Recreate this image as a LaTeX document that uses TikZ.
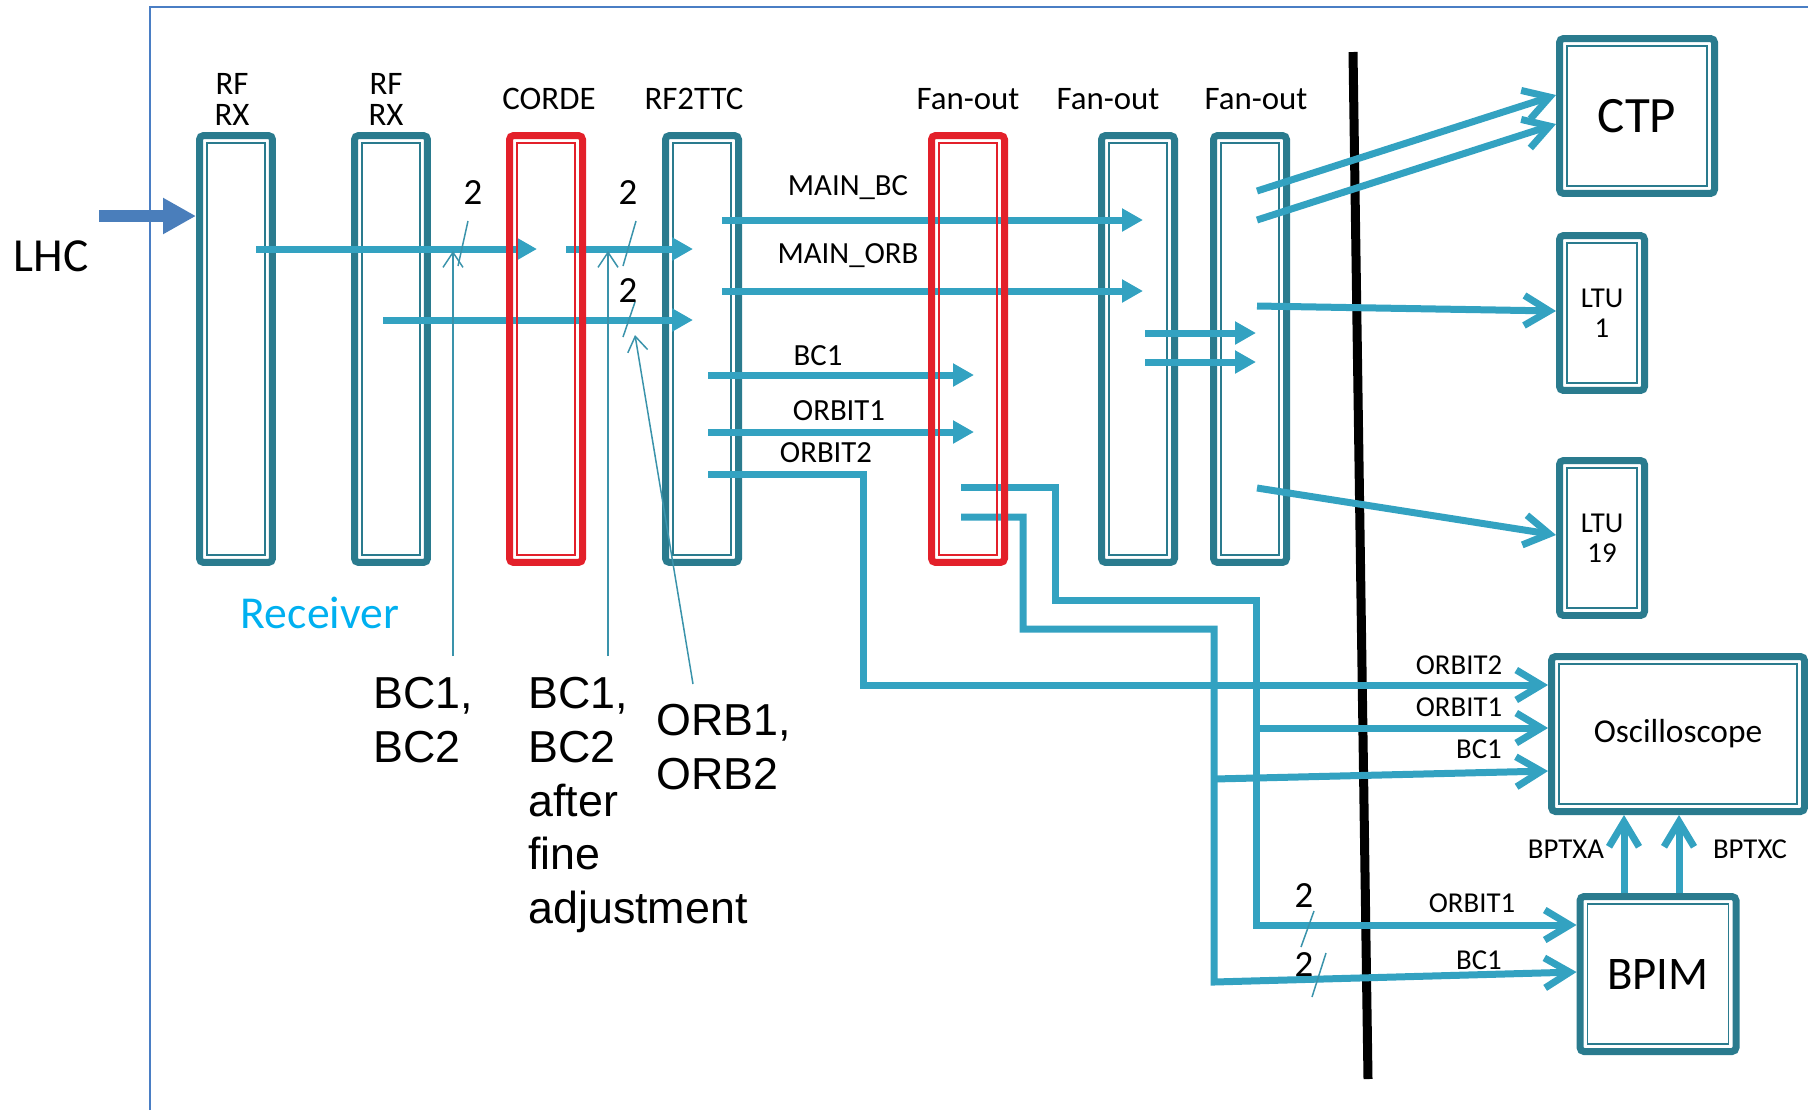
\documentclass[tikz,border=0pt]{standalone}
\usepackage{fontspec}
\setmainfont{Carlito}
\newfontfamily\arialfont{Liberation Sans}
\usetikzlibrary{arrows.meta,positioning}
\definecolor{boxteal}{HTML}{2A7B8E}
\definecolor{boxred}{HTML}{E3202A}
\definecolor{wire}{HTML}{33A2C1}
\definecolor{leadteal}{HTML}{3A93AB}
\definecolor{frameblue}{HTML}{4A7EC4}
\definecolor{lhcblue}{HTML}{4A7EBB}
\definecolor{rxcyan}{HTML}{00B0F0}

\begin{document}
\begin{tikzpicture}[x=0.02cm, y=-0.02cm,
  devbox/.style={draw=#1, line width=0.14cm, rounded corners=0.08cm, inner sep=0pt,
    minimum width=1.46cm, minimum height=8.54cm, align=center,
    path picture={\draw[#1, line width=0.03cm, sharp corners]
      ([shift={(0.15cm,-0.15cm)}]path picture bounding box.north west)
      rectangle
      ([shift={(-0.15cm,0.15cm)}]path picture bounding box.south east);}},
  toplbl/.style={font=\fontsize{18.7}{17.6}\selectfont, align=center, inner sep=0pt},
  wlbl/.style={font=\fontsize{17.5}{18}\selectfont, inner sep=0pt},
  rlbl/.style={font=\fontsize{16.4}{18}\selectfont, inner sep=0pt},
  num/.style={font=\fontsize{21}{22}\selectfont, inner sep=0pt},
  note/.style={font=\arialfont\fontsize{25.5}{30.6}\selectfont, align=left, inner sep=0pt, anchor=north west},
  bus/.style={wire, line width=0.14cm},
  fwd/.style={bus, -{Triangle[length=0.42cm, width=0.44cm]}},
  opn/.style={bus, -{Straight Barb[length=0.5cm, width=0.6cm]}},
  lead/.style={leadteal, line width=0.03cm, -{Straight Barb[length=0.3cm, width=0.4cm]}},
  slash/.style={leadteal, line width=0.03cm},
]

\useasboundingbox (0,0) rectangle (1808,1110);

% frame
\draw[frameblue, line width=0.04cm] (150,1110) -- (150,7) -- (1808,7);

% LHC input
\node[font=\fontsize{27}{27}\selectfont, inner sep=0pt] (lhc) at (51,256) {LHC};

% receiver crates
\node[devbox=boxteal] (rx1) at (236,349) {};
\node[devbox=boxteal] (rx2) at (391,349) {};
\node[devbox=boxteal] (ttc) at (702,349) {};

\node[toplbl, above=0.13cm of rx1, xshift=-0.08cm] (rx1lbl) {RF\\RX};
\node[toplbl, above=0.13cm of rx2, xshift=-0.1cm] (rx2lbl) {RF\\RX};
\node[toplbl, above=0.44cm of ttc, xshift=-0.16cm] (ttclbl) {RF2TTC};

\node[font=\fontsize{26}{26}\selectfont, text=rxcyan, inner sep=0pt] (recv) at (320,613) {Receiver};

% fan-outs
\node[devbox=boxteal] (fo2) at (1138,349) {};
\node[devbox=boxteal] (fo3) at (1250,349) {};

\node[toplbl, above=0.44cm of fo2, xshift=-0.6cm] (fo2lbl) {Fan-out};
\node[toplbl, above=0.44cm of fo3, xshift=0.12cm] (fo3lbl) {Fan-out};

% other side
\draw[black, line width=0.18cm] (1353,52) -- (1368,1079);

\node[devbox=boxteal, minimum width=3.1cm, minimum height=3.1cm,
  font=\fontsize{29}{29}\selectfont] (ctp) at (1637,116) {CTP};
\node[devbox=boxteal, minimum width=1.7cm, minimum height=3.1cm,
  font=\fontsize{16.4}{17}\selectfont] (ltua) at (1602,313) {LTU\\1};
\node[devbox=boxteal, minimum width=1.7cm, minimum height=3.1cm,
  font=\fontsize{16.4}{17}\selectfont] (ltub) at (1602,538) {LTU\\19};
\node[devbox=boxteal, minimum width=5.06cm, minimum height=3.1cm,
  font=\fontsize{19}{19}\selectfont] (osc) at (1678,734) {Oscilloscope};
\node[devbox=boxteal, minimum width=3.12cm, minimum height=3.1cm,
  font=\fontsize{26.6}{27}\selectfont] (bpim) at (1658,974) {BPIM};

% wires
\coordinate (lhcin) at (99,216);
\draw[lhcblue, line width=0.23cm, -{Triangle[length=0.66cm, width=0.68cm]}]
  (lhcin) -- (rx1.west |- lhcin);

\coordinate (rxa) at (256,249);
\coordinate (cdin) at (537,249);
\coordinate (cdout) at (566,249);
\coordinate (ttca) at (693,249);
\coordinate (rxb) at (383,320);
\coordinate (ttcb) at (693,320);
\draw[fwd] (rxa) -- (cdin);
\draw[fwd] (cdout) -- (ttca);
\draw[fwd] (rxb) -- (ttcb);

\coordinate (mbc) at (722,220);
\coordinate (mor) at (722,291);
\coordinate (bca) at (708,375);
\coordinate (ora) at (708,432);
\coordinate (orb) at (708,474);
\draw[fwd] (mbc) -- (1143,220);
\draw[fwd] (mor) -- (1143,291);
\draw[fwd] (bca) -- (974,375);
\draw[fwd] (ora) -- (974,432);
\draw[opn] (orb) -| (863,685) -- (osc.west |- 0,685);

\node[wlbl] (mbclbl) at (848,188) {MAIN\_BC};
\node[wlbl] (morlbl) at (848,256) {MAIN\_ORB};
\node[wlbl] (bcalbl) at (818,356) {BC1};
\node[wlbl] (oralbl) at (839,411) {ORBIT1};
\node[wlbl] (orblbl) at (826,453) {ORBIT2};

\coordinate (f2a) at (1145,333);
\coordinate (f2b) at (1145,362);
\draw[fwd] (f2a) -- (1256,333);
\draw[fwd] (f2b) -- (1256,362);

\coordinate (f3a) at (1257,191);
\coordinate (f3b) at (1257,220);
\coordinate (f3c) at (1257,306);
\coordinate (f3d) at (1257,488);
\draw[opn] (f3a) -- (ctp.west |- 0,95);
\draw[opn] (f3b) -- (ctp.west |- 0,124);
\draw[opn] (f3c) -- (ltua.west |- 0,311);
\draw[opn] (f3d) -- (ltub.west |- 0,535);

\coordinate (fa) at (961,487);
\coordinate (fb) at (961,517);
\draw[opn] (fa) -| (1055,600) -| (1256,925) -- (bpim.west |- 0,925);
\draw[opn] (1256,728) -- (osc.west |- 0,728);
\draw[opn] (fb) -| (1023,629) -| (1214,982) -- (bpim.west |- 0,972);
\draw[opn] (1214,779) -- (osc.west |- 0,771);

\draw[opn] (bpim.north -| 1624,0) -- (osc.south -| 1624,0);
\draw[opn] (bpim.north -| 1679,0) -- (osc.south -| 1679,0);

\node[rlbl] (oscl1) at (1459,665) {ORBIT2};
\node[rlbl] (oscl2) at (1459,707) {ORBIT1};
\node[rlbl] (oscl3) at (1479,749) {BC1};
\node[rlbl] (bpl1) at (1472,903) {ORBIT1};
\node[rlbl] (bpl2) at (1479,960) {BC1};
\node[rlbl] (txa) at (1566,849) {BPTXA};
\node[rlbl] (txc) at (1750,849) {BPTXC};

% red crates go over the wires
\node[devbox=boxred] (corde) at (546,349) {};
\node[devbox=boxred] (fo1) at (968,349) {};
\node[toplbl, above=0.44cm of corde, xshift=0.06cm] (cordelbl) {CORDE};
\node[toplbl, above=0.44cm of fo1] (fo1lbl) {Fan-out};

% bus widths
\node[num] (n1) at (473,193) {2};
\node[num] (n2) at (628,193) {2};
\node[num] (n3) at (628,291) {2};
\node[num] (n4) at (1304,896) {2};
\node[num] (n5) at (1304,965) {2};
\draw[slash] (468,221) -- (458,266);
\draw[slash] (636,221) -- (623,266);
\draw[slash] (635,302) -- (623,337);
\draw[slash] (1314,911) -- (1301,947);
\draw[slash] (1326,953) -- (1312,997);

% notes
\node[note] (nbc) at (373,677) {BC1,\\BC2};
\node[note] (nbcf) at (528,677) {BC1,\\BC2\\after\\fine\\adjustment};
\node[note] (norb) at (656,704) {ORB1,\\ORB2};
\coordinate (lda) at (453,656);
\coordinate (ldb) at (608,656);
\coordinate (ldc) at (693,684);
\draw[lead] (lda) -- (453,251);
\draw[lead] (ldb) -- (608,251);
\draw[lead] (ldc) -- (635,335);

\end{tikzpicture}
\end{document}
